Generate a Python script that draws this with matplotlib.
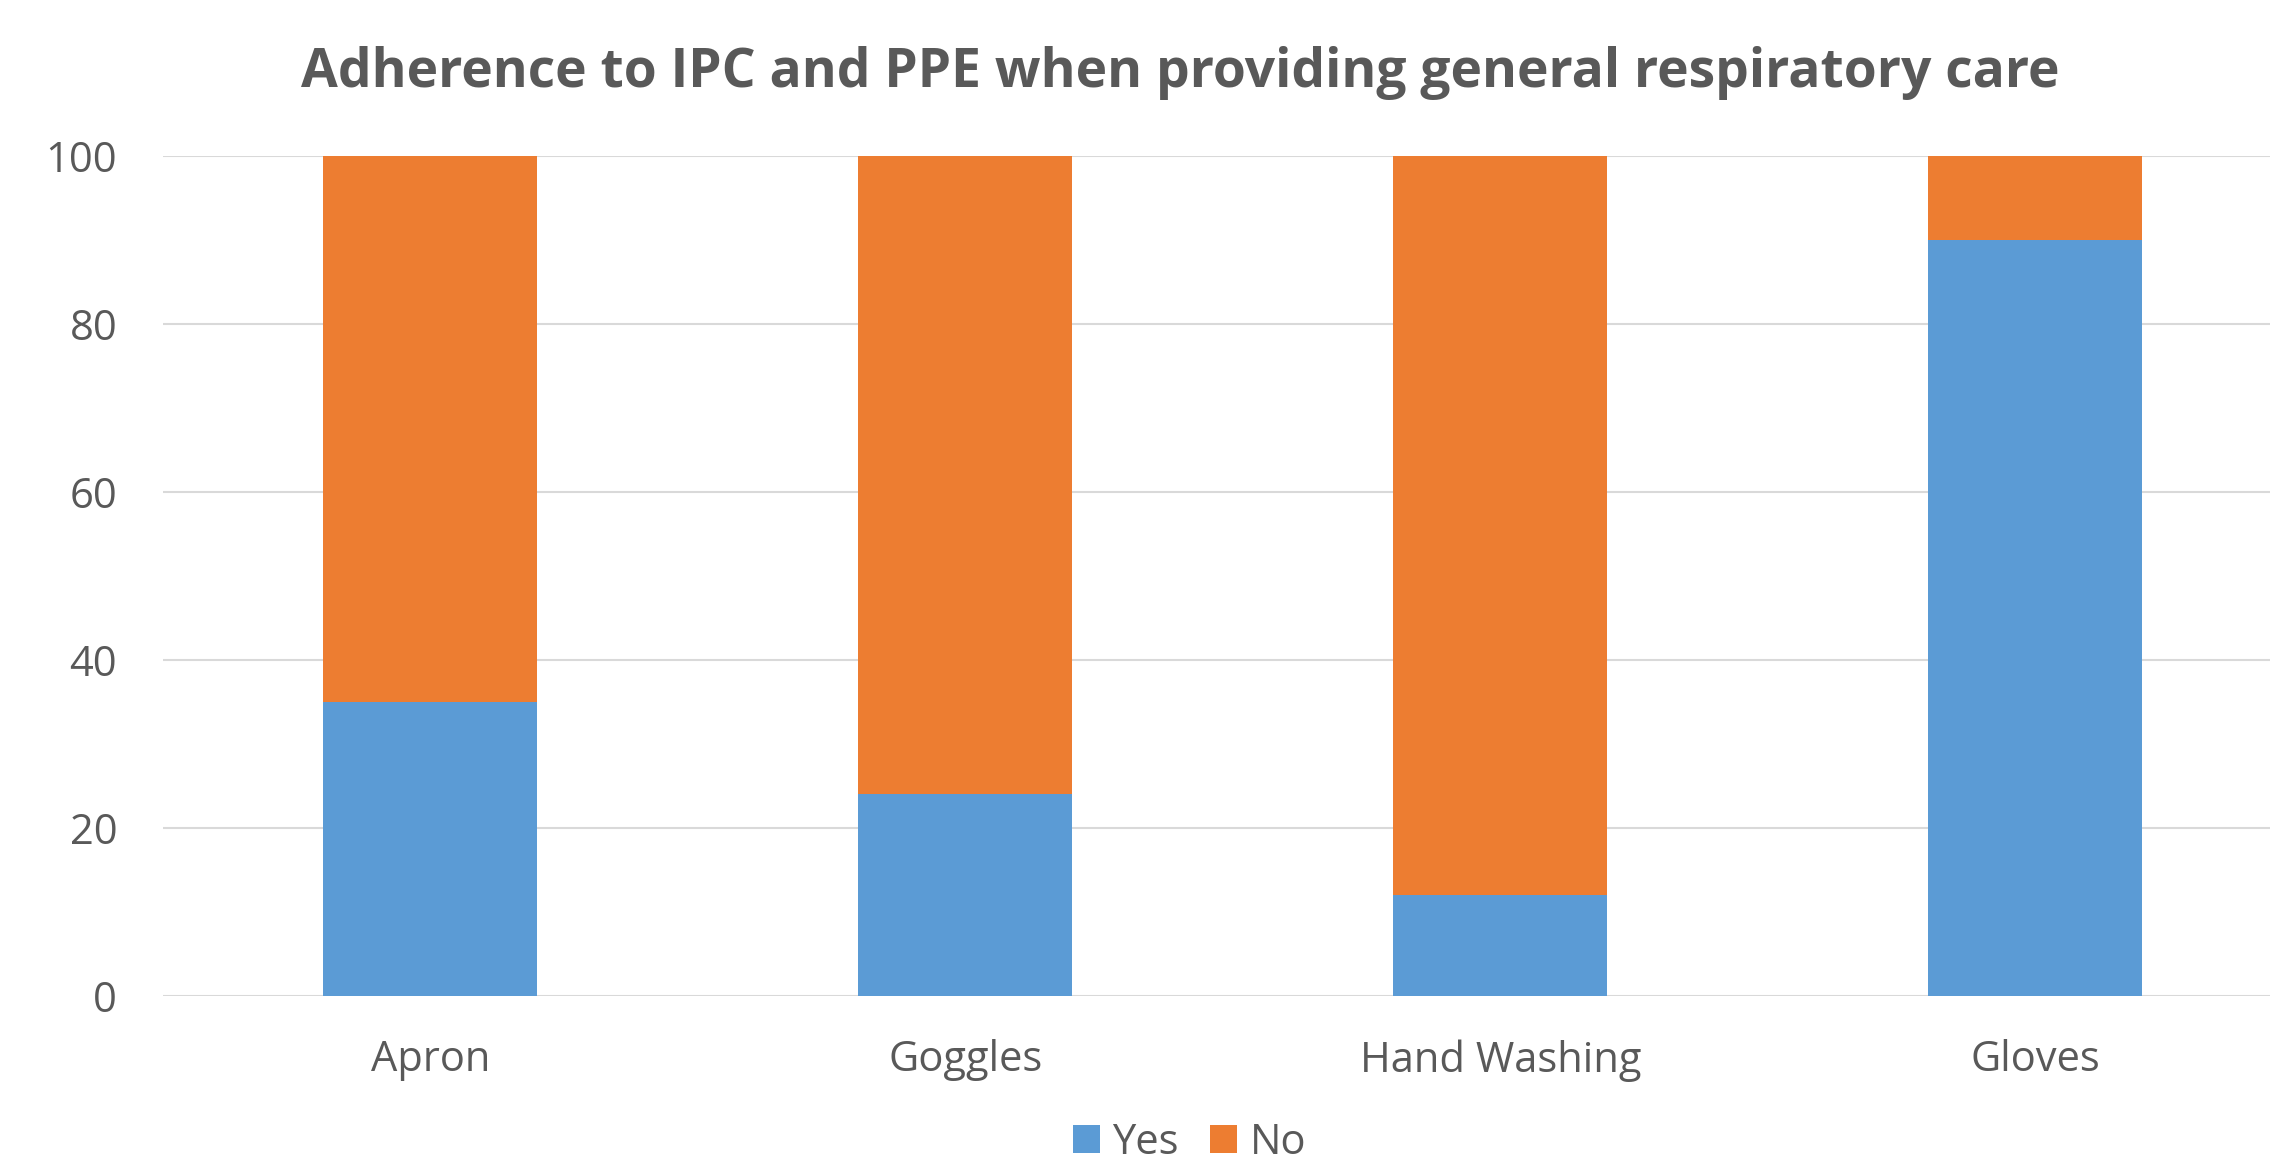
import numpy as np
from matplotlib import pyplot as plt

#-----------------------------------------------------------------------------------------

categories = ["Apron", "Goggles", "Hand Washing", "Gloves"]
yes_pct = [35, 24, 12, 90]
no_pct = [65, 76, 88, 10]
series_labels = ["Yes", "No"]
yticks = [0, 20, 40, 60, 80, 100]
title = "Adherence to IPC and PPE when providing general respiratory care"

#-----------------------------------------------------------------------------------------

plt.rcParams['font.family'] = ['Open Sans', 'DejaVu Sans']

blue = '#5B9BD5'
orange = '#ED7D31'
grey_txt = '#595959'

fig = plt.figure(figsize=(22.7, 11.7), dpi=100)
ax = fig.add_axes([0.0718, 0.1487, 0.9427, 0.718])

x = np.arange(len(categories))
ax.bar(x, yes_pct, width=0.4, color=blue, label=series_labels[0], zorder=3)
ax.bar(x, no_pct, width=0.4, bottom=yes_pct, color=orange, label=series_labels[1], zorder=3)

# ===== axes =====
ax.set_xlim(-0.5, len(categories) - 0.5)
ax.set_ylim(0, 100)
ax.set_yticks(yticks)
ax.set_xticks(x)
ax.set_xticklabels(categories)
ax.yaxis.grid(True, color='#D9D9D9', linewidth=1.5, zorder=0)
ax.set_axisbelow(True)
for s in ax.spines.values():
    s.set_visible(False)
ax.tick_params(axis='both', length=0, labelsize=30, labelcolor=grey_txt)
ax.tick_params(axis='x', pad=31)
ax.tick_params(axis='y', pad=33)

# ===== title & legend =====
fig.text(0.52, 0.938, title, ha='center', va='center',
         fontsize=38.4, fontweight='bold', color=grey_txt)

fig.legend(
    loc='center',
    bbox_to_anchor=(0.524, 1 - 1143 / 1170),
    ncol=2,
    frameon=False,
    fontsize=30,
    labelcolor=grey_txt,
    handlelength=0.65,
    handleheight=0.65,
    handletextpad=0.3,
    columnspacing=0.75,
)

fig.savefig("out.png", dpi=100)
